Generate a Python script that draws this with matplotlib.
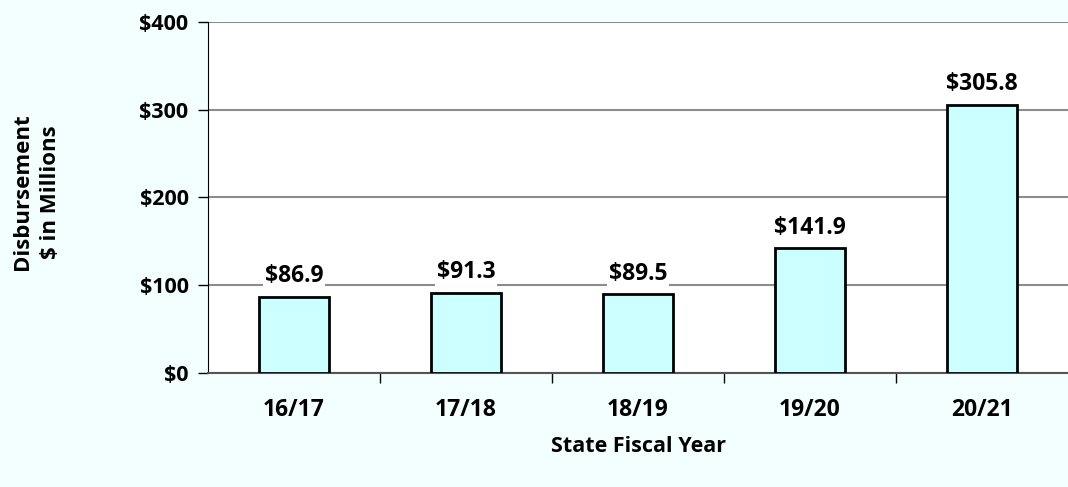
import matplotlib.pyplot as plt
import numpy as np

years = ['16/17', '17/18', '18/19', '19/20', '20/21']
disb = [86.9, 91.3, 89.5, 141.9, 305.8]
yticks = [0, 100, 200, 300, 400]

lab_font = dict(fontweight='bold', family='Open Sans')

fig = plt.figure(figsize=(10.68, 4.87), dpi=100, facecolor='#F3FFFF')
ax = fig.add_axes([0.1948, 0.234, 0.8052, 0.721])
ax.set_facecolor('white')

x = np.arange(len(years))
ax.bar(x, disb, width=0.41, color='#CCFFFF', edgecolor='black', linewidth=2, zorder=3)
for xi, v in zip(x, disb):
    ax.text(xi, v + 10, '$%.1f' % v, ha='center', va='bottom', fontsize=16.5,
            zorder=4, bbox=dict(facecolor='white', edgecolor='none', pad=1.5), **lab_font)

ax.set_xlim(-0.5, len(years) - 0.5)
ax.set_ylim(0, 400)
ax.set_yticks(yticks)
ax.set_yticklabels(['$%d' % t for t in yticks], fontsize=15.5, **lab_font)
ax.grid(axis='y', color='#8c8c8c', linewidth=1.5, zorder=0)
ax.tick_params(axis='y', length=7, width=1, pad=7)

ax.set_xticks(x)
ax.set_xticklabels(years, fontsize=16.5, **lab_font)
ax.set_xticks(np.arange(0.5, len(years) - 0.5), minor=True)
ax.tick_params(axis='x', which='major', length=0, pad=18)
ax.tick_params(axis='x', which='minor', length=7, width=1)

for s in ['top', 'right']:
    ax.spines[s].set_visible(False)
ax.spines['left'].set_color('black')
ax.spines['bottom'].set_color('#555555')
ax.spines['bottom'].set_linewidth(1.5)

ax.set_xlabel('State Fiscal Year', fontsize=15.5, labelpad=10, **lab_font)
fig.text(0.034, 0.606, 'Disbursement\n$ in Millions', rotation=90, ha='center', va='center',
         fontsize=16, linespacing=1.4, **lab_font)

fig.savefig('out.png', dpi=100, facecolor=fig.get_facecolor())
